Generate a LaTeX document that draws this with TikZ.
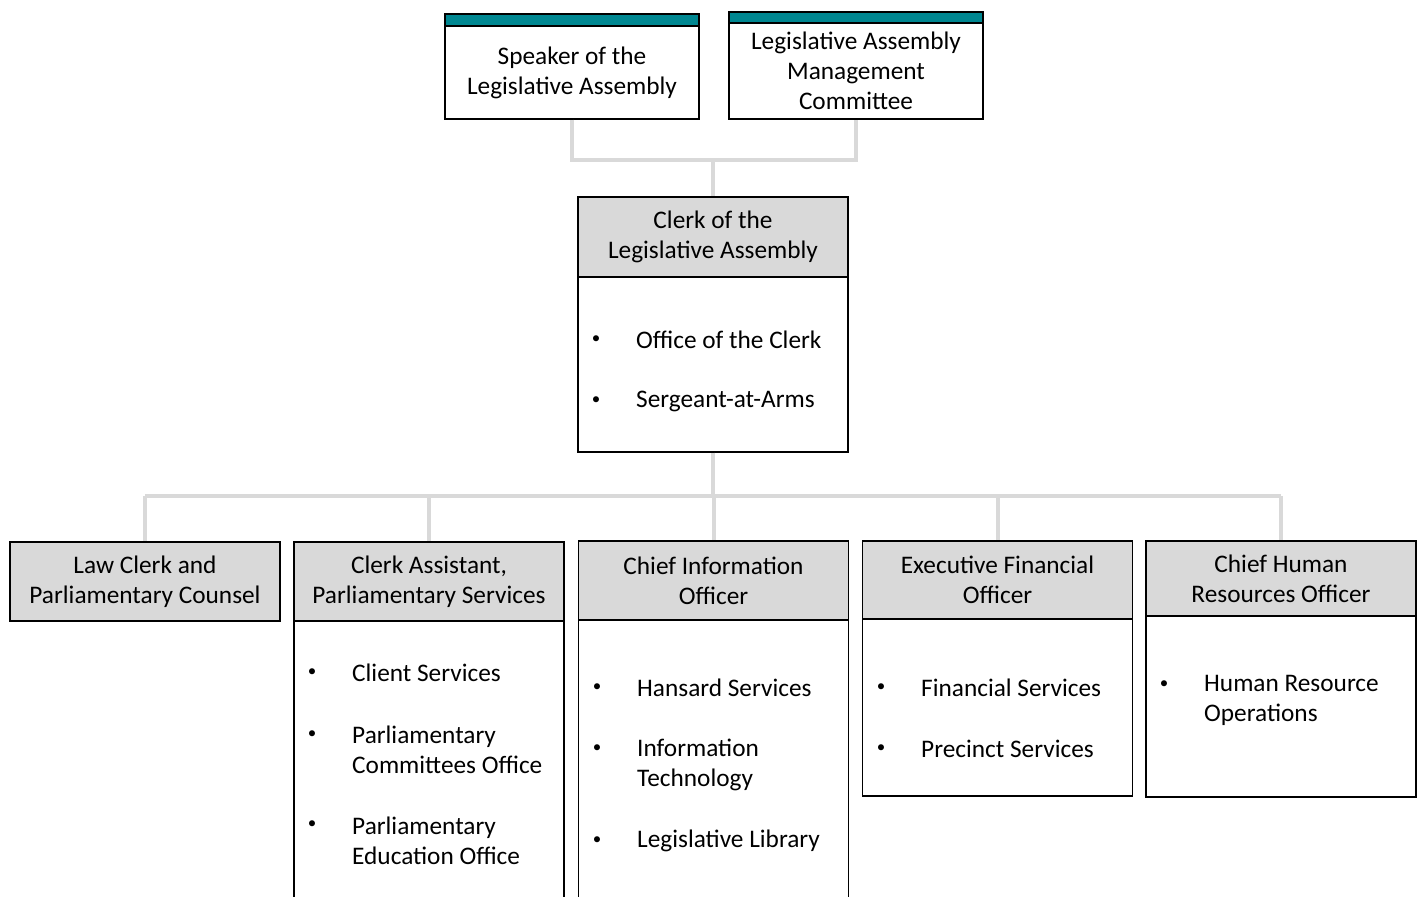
\documentclass[tikz,border=0pt]{standalone}
\usepackage{fontspec}
\setmainfont{Carlito}
\definecolor{teal1}{RGB}{0,135,145}
\definecolor{hdr}{RGB}{217,217,217}
\definecolor{lnk}{RGB}{217,217,217}
\begin{document}
\begin{tikzpicture}[x=1pt,y=-1pt,
  every node/.style={font=\fontsize{25.3}{30}\selectfont, inner sep=0pt},
  box/.style={draw=black, line width=1.4pt, rectangle, align=center},
  hbox/.style={box, fill=hdr, minimum width=270, minimum height=79},
  bbox/.style={box, fill=white, minimum width=270},
  tbox/.style={box, fill=white, minimum width=254},
  bar/.style={draw=black, line width=1.4pt, fill=teal1, minimum width=254, minimum height=12, rectangle},
  conn/.style={draw=lnk, line width=4pt},
  itm/.style={anchor=west, align=left, yshift=-2},
  bul/.style={anchor=center, font=\fontsize{17}{17}\selectfont, yshift=-2}
]
\useasboundingbox (0,0) rectangle (1422,897);
\clip (0,0) rectangle (1422,897);

\coordinate (topbus) at (713,160);
\coordinate (bus) at (713,496);

% top boxes
\node[tbox, minimum height=93] (speaker) at (572,72.5) {Speaker of the\\Legislative Assembly};
\node[bar] (speakerbar) at (572,20) {};
\node[tbox, minimum height=96] (lamc) at (856,71) {Legislative Assembly\\Management\\Committee};
\node[bar, minimum height=11] (lamcbar) at (856,17.5) {};

% clerk
\node[hbox, minimum height=80] (clerkh) at (713,237) {Clerk of the\\Legislative Assembly};
\node[bbox, minimum height=175] (clerkb) at (713,364.5) {};
\node[bul] (cb1) at (596,338) {•};
\node[itm] (ci1) at (636,338) {Office of the Clerk};
\node[bul] (cb2) at (596,399) {•};
\node[itm] (ci2) at (636,399) {Sergeant-at-Arms};

% second-level headers and bodies
\node[hbox] (lawh) at (145,581.5) {Law Clerk and\\Parliamentary Counsel};
\node[hbox] (pash) at (429,581.5) {Clerk Assistant,\\Parliamentary Services};
\node[bbox, minimum height=289] (pasb) at (429,765.5) {};
\node[hbox] (cioh) at (713.5,580.5) {Chief Information\\Officer};
\node[bbox, minimum height=290] (ciob) at (713.5,765) {};
\node[hbox, minimum height=78] (efoh) at (997.5,580) {Executive Financial\\Officer};
\node[bbox, minimum height=177] (efob) at (997.5,707.5) {};
\node[hbox, minimum height=75] (hrh) at (1281,578.5) {Chief Human\\Resources Officer};
\node[bbox, minimum height=181] (hrb) at (1281,706.5) {};

% items: parliamentary services
\node[bul] (pb1) at (312,671) {•};
\node[itm] (pi1) at (352,671) {Client Services};
\node[bul] (pb2) at (312,733) {•};
\node[itm] (pi2) at (352,747.5) {Parliamentary\\Committees Office};
\node[bul] (pb3) at (312,823) {•};
\node[itm] (pi3) at (352,838.5) {Parliamentary\\Education Office};

% items: CIO
\node[bul] (ib1) at (597,686) {•};
\node[itm] (ii1) at (637,686) {Hansard Services};
\node[bul] (ib2) at (597,747) {•};
\node[itm] (ii2) at (637,762.5) {Information\\Technology};
\node[bul] (ib3) at (597,839) {•};
\node[itm] (ii3) at (637,839) {Legislative Library};

% items: EFO
\node[bul] (eb1) at (881,686) {•};
\node[itm] (ei1) at (921,686) {Financial Services};
\node[bul] (eb2) at (881,747) {•};
\node[itm] (ei2) at (921,747) {Precinct Services};

% items: HR
\node[bul] (hb1) at (1164,683) {•};
\node[itm] (hi1) at (1204,698) {Human Resource\\Operations};

% connectors
\draw[conn] (speaker.south) |- (topbus) -| (lamc.south);
\draw[conn] (topbus) -- (clerkh.north);
\draw[conn] (clerkb.south) -- (bus);
\draw[conn] (bus -| lawh.north) -- (bus -| hrh.north);
\draw[conn] (bus -| lawh.north) -- (lawh.north);
\draw[conn] (bus -| pash.north) -- (pash.north);
\draw[conn] (bus -| cioh.north) -- (cioh.north);
\draw[conn] (bus -| efoh.north) -- (efoh.north);
\draw[conn] (bus -| hrh.north) -- (hrh.north);
\end{tikzpicture}
\end{document}
